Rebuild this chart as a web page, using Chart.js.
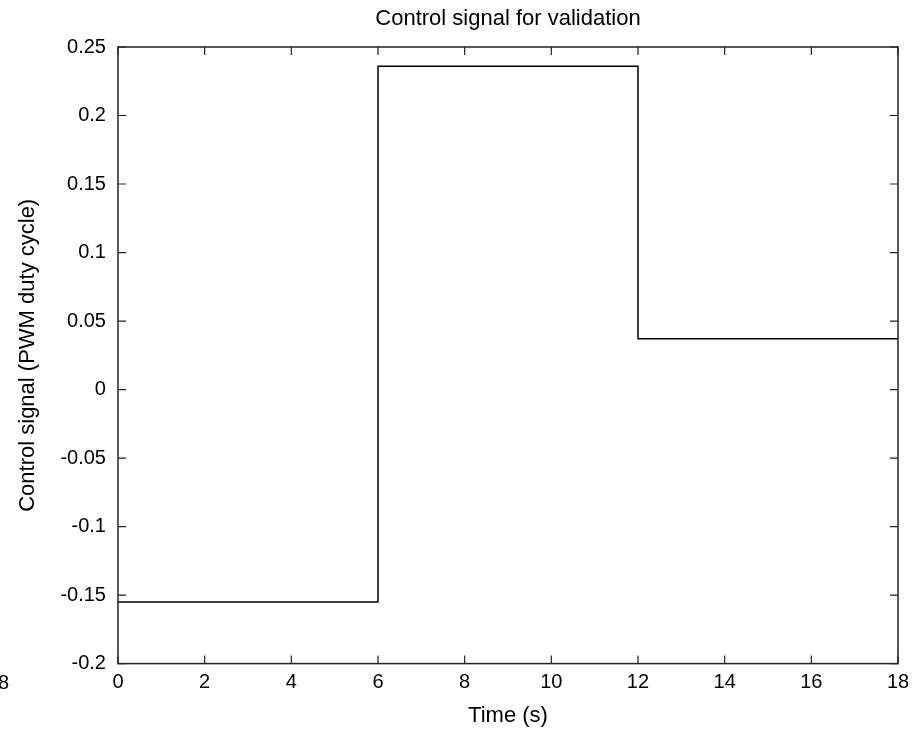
<!DOCTYPE html>
<html>
<head>
<meta charset="utf-8">
<script src="https://cdn.jsdelivr.net/npm/chart.js@4.4.0/dist/chart.umd.min.js"></script>
<style>
  html, body { margin: 0; padding: 0; background: #fff; }
  #wrap { width: 912px; height: 729px; }
</style>
</head>
<body>
<div id="wrap"><canvas id="c" width="912" height="729"></canvas></div>
<script>
// step signal: value holds from each time until the next
var stepTimes = [0, 6, 12, 18];
var stepValues = [-0.155, 0.236, 0.037, 0.037];
var xTicks = [0, 2, 4, 6, 8, 10, 12, 14, 16, 18];
var yTicks = [-0.2, -0.15, -0.1, -0.05, 0, 0.05, 0.1, 0.15, 0.2, 0.25];

var FONT = "'Liberation Sans', Arial, sans-serif";

var points = stepTimes.map(function (t, i) { return { x: t, y: stepValues[i] }; });

// box, inward ticks and title drawn over the plot like matlab does
var boxPlugin = {
    id: 'box',
    afterDraw: function (chart) {
        var ctx = chart.ctx;
        var a = chart.chartArea;
        var xs = chart.scales.x, ys = chart.scales.y;
        ctx.save();
        ctx.strokeStyle = '#222';
        ctx.lineWidth = 1.5;
        ctx.strokeRect(a.left, a.top, a.right - a.left, a.bottom - a.top);
        ctx.lineWidth = 1.2;
        var len = 8;
        ctx.beginPath();
        xTicks.forEach(function (v) {
            var px = xs.getPixelForValue(v);
            ctx.moveTo(px, a.bottom); ctx.lineTo(px, a.bottom - len);
            ctx.moveTo(px, a.top); ctx.lineTo(px, a.top + len);
        });
        yTicks.forEach(function (v) {
            var py = ys.getPixelForValue(v);
            ctx.moveTo(a.left, py); ctx.lineTo(a.left + len, py);
            ctx.moveTo(a.right, py); ctx.lineTo(a.right - len, py);
        });
        ctx.stroke();

        ctx.fillStyle = '#000';
        ctx.font = '22px ' + FONT;
        ctx.textAlign = 'center';
        ctx.textBaseline = 'middle';
        ctx.fillText('Control signal for validation', (a.left + a.right) / 2, 19);
        // leftover label cut at the left edge
        ctx.font = '20px ' + FONT;
        ctx.textAlign = 'left';
        ctx.fillText('8', -2, 683);
        ctx.restore();
    }
};

new Chart(document.getElementById('c').getContext('2d'), {
    type: 'line',
    data: {
        datasets: [{
            data: points,
            stepped: 'before',
            borderColor: '#000',
            borderWidth: 1.5,
            pointRadius: 0,
            fill: false
        }]
    },
    options: {
        responsive: false,
        animation: false,
        layout: { padding: { top: 47, right: 14, left: 15, bottom: 0 } },
        plugins: {
            legend: { display: false },
            title: { display: false },
            tooltip: { enabled: false }
        },
        scales: {
            x: {
                type: 'linear',
                min: 0, max: 18,
                afterBuildTicks: function (s) { s.ticks = xTicks.map(function (v) { return { value: v }; }); },
                // let the last label hang past the plot edge
                afterFit: function (s) { s.paddingRight = 0; },
                grid: { display: false, drawTicks: false },
                border: { display: false },
                ticks: { color: '#000', font: { size: 20, family: FONT }, padding: 7, maxRotation: 0 },
                title: { display: true, text: 'Time (s)', color: '#000', font: { size: 22, family: FONT }, padding: { top: 1, bottom: 0 } }
            },
            y: {
                type: 'linear',
                min: -0.2, max: 0.25,
                afterBuildTicks: function (s) { s.ticks = yTicks.map(function (v) { return { value: v }; }); },
                grid: { display: false, drawTicks: false },
                border: { display: false },
                ticks: {
                    color: '#000', font: { size: 20, family: FONT }, padding: 12,
                    callback: function (v) { return String(Math.round(v * 100) / 100); }
                },
                title: { display: true, text: 'Control signal (PWM duty cycle)', color: '#000', font: { size: 22, family: FONT }, padding: { top: 0, bottom: 7 } }
            }
        }
    },
    plugins: [boxPlugin]
});
</script>
</body>
</html>
